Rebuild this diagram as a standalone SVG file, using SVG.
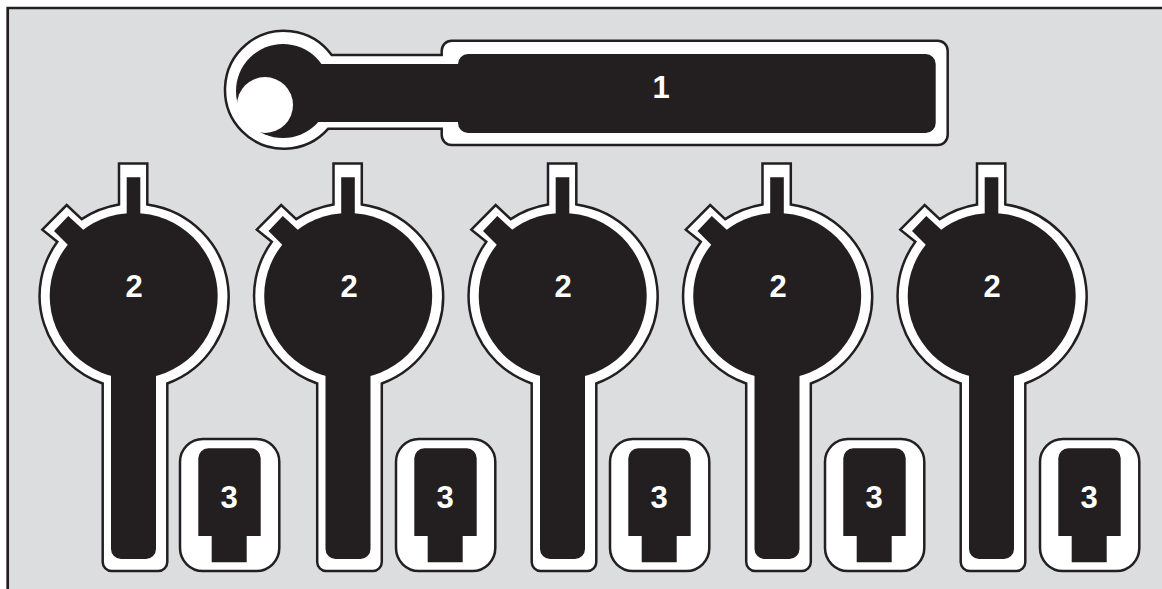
<svg xmlns="http://www.w3.org/2000/svg" width="1162" height="589" viewBox="0 0 1162 589">
<style>
.o{fill:#fff;stroke:#231f20;stroke-width:2.5;stroke-linejoin:miter}
.k{fill:#231f20}
.w{fill:#fff}
text{font-family:"Liberation Sans",Arial,sans-serif;font-weight:700;font-size:31px;fill:#fff;text-anchor:middle}
</style>
<defs>
<g id="key">
<path class="o" d="M119 204.500V163.500H147.300V204.500A95 93 0 0 1 167.300 383.500V562A9 9 0 0 1 158.300 571H111.700A9 9 0 0 1 102.700 562V383.500A95 93 0 0 1 57.300 241.800L42.300 229.700L66.700 205L81.700 219.100A95 93 0 0 1 119 204.500Z"/>
<ellipse class="k" cx="133.700" cy="296" rx="84" ry="83"/>
<path class="k" d="M126.700 220V177.300H140.300V220ZM111 370H156V549A10 10 0 0 1 146 559H121A10 10 0 0 1 111 549ZM75 252L54 231L68.300 216L90 236Z"/>
</g>
<g id="clip">
<rect class="o" x="180" y="439" width="99.300" height="132" rx="23"/>
<path class="k" d="M198.300 536V458.300A10 10 0 0 1 208.300 448.300H250.700A10 10 0 0 1 260.700 458.300V536H246.700V562.300H211.700V536Z"/>
</g>
</defs>
<rect x="0" y="0" width="1162" height="589" fill="#fff"/>
<path d="M7.700 589V8H1162V589Z" fill="#dcddde"/>
<path d="M7.700 589V8H1162" fill="none" stroke="#231f20" stroke-width="2.700"/>
<g id="connectors"/>
<g id="node-1">
<path class="o" d="M331.700 55H441.700V50.700A10 10 0 0 1 451.700 40.700H937.700A10 10 0 0 1 947.700 50.700V135A10 10 0 0 1 937.700 145H451.700A10 10 0 0 1 441.700 135V128.700H328.300A59 59 0 1 1 331.700 55Z"/>
<circle class="k" cx="283" cy="91" r="47"/>
<rect class="k" x="300" y="64" width="170" height="58"/>
<rect class="k" x="458" y="54" width="477.700" height="79" rx="10"/>
<circle class="w" cx="265" cy="105" r="28"/>
<text x="661" y="98">1</text>
</g>
<g id="node-2a"><use href="#key"/><text x="134" y="297">2</text></g>
<g id="node-2b"><use href="#key" x="214.500"/><text x="349" y="297">2</text></g>
<g id="node-2c"><use href="#key" x="429"/><text x="563" y="297">2</text></g>
<g id="node-2d"><use href="#key" x="643.500"/><text x="778" y="297">2</text></g>
<g id="node-2e"><use href="#key" x="858"/><text x="992" y="297">2</text></g>
<g id="node-3a"><use href="#clip"/><text x="229" y="508">3</text></g>
<g id="node-3b"><use href="#clip" x="216"/><text x="445" y="508">3</text></g>
<g id="node-3c"><use href="#clip" x="430"/><text x="659" y="508">3</text></g>
<g id="node-3d"><use href="#clip" x="645"/><text x="874" y="508">3</text></g>
<g id="node-3e"><use href="#clip" x="860"/><text x="1089" y="508">3</text></g>
</svg>
